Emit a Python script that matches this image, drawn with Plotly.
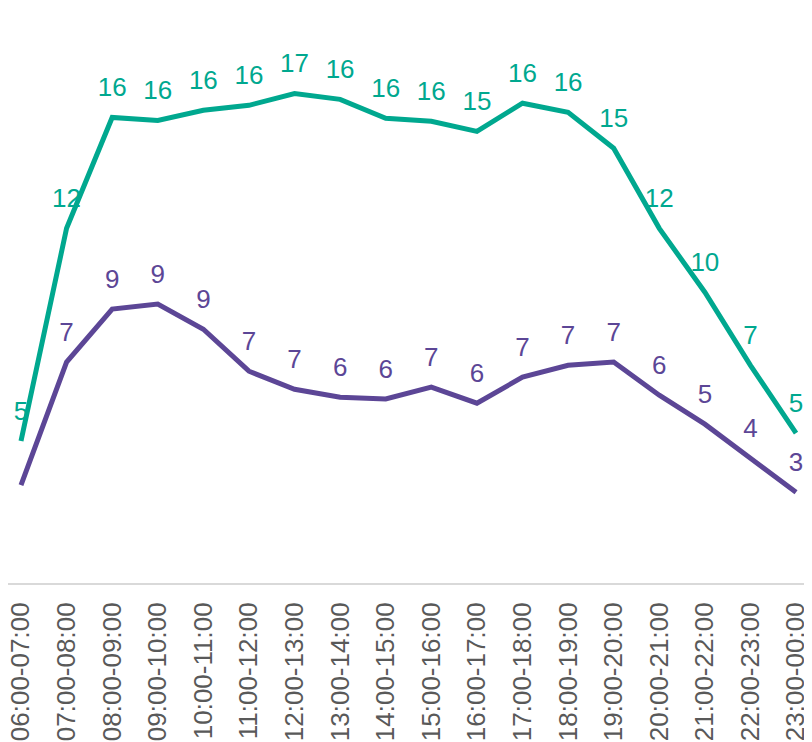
import plotly.graph_objects as go

categories = ["06:00-07:00", "07:00-08:00", "08:00-09:00", "09:00-10:00", "10:00-11:00",
              "11:00-12:00", "12:00-13:00", "13:00-14:00", "14:00-15:00", "15:00-16:00",
              "16:00-17:00", "17:00-18:00", "18:00-19:00", "19:00-20:00", "20:00-21:00",
              "21:00-22:00", "22:00-23:00", "23:00-00:00"]

teal_values = [4.80, 11.99, 15.74, 15.64, 15.98, 16.15, 16.55, 16.35, 15.71, 15.61,
               15.27, 16.22, 15.91, 14.70, 11.99, 9.83, 7.36, 5.07]
purple_values = [3.31, 7.47, 9.26, 9.43, 8.58, 7.16, 6.55, 6.28, 6.22, 6.62,
                 6.08, 6.96, 7.36, 7.47, 6.35, 5.37, 4.22, 3.07]

teal_labels = [str(round(v)) for v in teal_values]
purple_labels = [""] + [str(round(v)) for v in purple_values[1:]]

TEAL = "#00A88F"
PURPLE = "#5C4696"
FONT = "Liberation Sans, Arial, sans-serif"

fig = go.Figure()
for vals, labels, col in [(teal_values, teal_labels, TEAL), (purple_values, purple_labels, PURPLE)]:
    fig.add_trace(go.Scatter(
        x=categories, y=vals, mode="lines+markers+text", text=labels,
        textposition="top center", textfont=dict(color=col, size=26, family=FONT),
        line=dict(color=col, width=5), marker=dict(size=22, opacity=0, color=col),
        cliponaxis=False, showlegend=False, hoverinfo="x+y",
    ))

# page body has an 8px margin, so the figure is sized/offset to compensate
fig.update_layout(
    width=804, height=734,
    margin=dict(l=0, r=0, t=13, b=159, pad=0),
    paper_bgcolor="white", plot_bgcolor="white",
    font=dict(family=FONT),
    xaxis=dict(
        type="category", range=[-0.285, 17.35], tickangle=-90, automargin=False,
        showgrid=False, zeroline=False, showline=True, linecolor="#D9D9D9", linewidth=2,
        tickfont=dict(size=26, color="#595959", family=FONT),
        ticks="", ticklabelstandoff=7,
    ),
    yaxis=dict(range=[0, 19], visible=False, showgrid=False, zeroline=False, automargin=False),
)

fig.write_html("out.html")
